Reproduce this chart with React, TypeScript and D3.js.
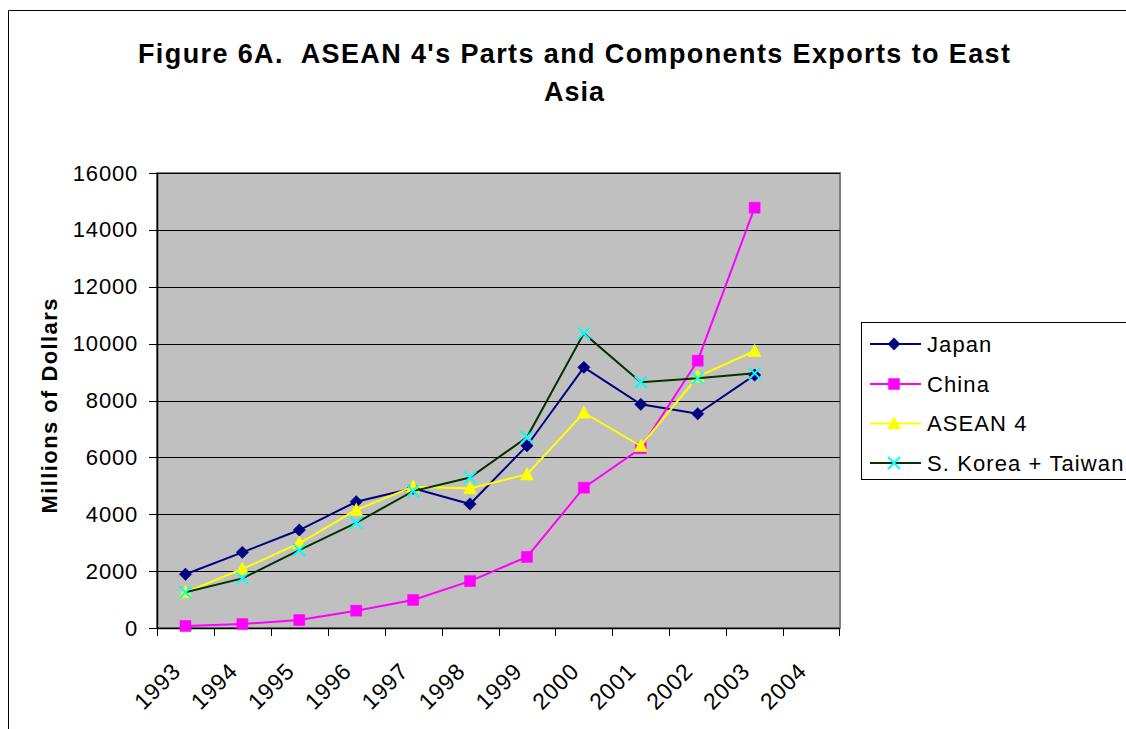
import React from 'react';
import * as d3 from 'd3';

const years = ['1993', '1994', '1995', '1996', '1997', '1998', '1999', '2000', '2001', '2002', '2003', '2004'];
const japan = [1890, 2660, 3445, 4440, 4910, 4360, 6410, 9165, 7865, 7535, 8895];
const china = [70, 140, 280, 610, 985, 1650, 2500, 4935, 6320, 9400, 14780];
const asean4 = [1255, 2075, 2980, 4150, 4970, 4910, 5400, 7570, 6400, 8840, 9740];
const koreaTaiwan = [1255, 1745, 2740, 3700, 4815, 5290, 6705, 10360, 8640, 8780, 8955];
const yTicks = [0, 2000, 4000, 6000, 8000, 10000, 12000, 14000, 16000];

const titleLine1 = "Figure 6A.  ASEAN 4's Parts and Components Exports to East";
const titleLine2 = 'Asia';
const yTitle = 'Millions of Dollars';

type Marker = 'diamond' | 'square' | 'triangle' | 'x';

const series: { name: string; values: number[]; line: string; fill: string; marker: Marker }[] = [
  { name: 'Japan', values: japan, line: '#000080', fill: '#000080', marker: 'diamond' },
  { name: 'China', values: china, line: '#FF00FF', fill: '#FF00FF', marker: 'square' },
  { name: 'ASEAN 4', values: asean4, line: '#FFFF00', fill: '#FFFF00', marker: 'triangle' },
  { name: 'S. Korea + Taiwan', values: koreaTaiwan, line: '#003300', fill: '#00FFFF', marker: 'x' },
];

const FONT = 'Arial, "Liberation Sans", Helvetica, sans-serif';

function markerPath(m: Marker): string {
  switch (m) {
    case 'diamond':
      return 'M0,-6.2L6.2,0L0,6.2L-6.2,0Z';
    case 'square':
      return 'M-5.5,-5.5H5.5V5.5H-5.5Z';
    case 'triangle':
      return 'M0,-7L6.5,5.5H-6.5Z';
    case 'x':
      return 'M-6,-6L6,6M-6,6L6,-6';
  }
}

function MarkerShape({ m, color, x, y }: { m: Marker; color: string; x: number; y: number }) {
  const d = markerPath(m);
  if (m === 'x') {
    return <path d={d} transform={`translate(${x},${y})`} stroke={color} strokeWidth={2} fill="none" />;
  }
  return <path d={d} transform={`translate(${x},${y})`} fill={color} stroke={color} strokeWidth={0.5} />;
}

export default function App() {
  const left = 157;
  const right = 840;
  const top = 173;
  const bottom = 628;

  const x = d3.scaleBand<string>().domain(years).range([left, right]).padding(0);
  const y = d3.scaleLinear().domain([0, 16000]).range([bottom, top]);
  const cx = (i: number) => (x(years[i]) as number) + x.bandwidth() / 2;

  const line = d3
    .line<number>()
    .x((_, i) => cx(i))
    .y((v) => y(v));

  const legendRows = [344, 384, 423.5, 463];

  return (
    <svg
      width={1126}
      height={729}
      style={{ position: 'absolute', left: 0, top: 0, display: 'block', background: '#fff' }}
      fontFamily={FONT}
    >
      <rect x={0} y={0} width={1126} height={729} fill="#fff" />
      {/* outer chart border (cropped) */}
      <path d="M8.5,729V10.5H1126" fill="none" stroke="#000" strokeWidth={1} />

      {/* title */}
      <text
        x={574}
        y={63}
        textAnchor="middle"
        fontSize={27}
        fontWeight="bold"
        style={{ whiteSpace: 'pre' }}
        textLength={872}
        lengthAdjust="spacing"
      >
        {titleLine1}
      </text>
      <text x={574} y={101} textAnchor="middle" fontSize={27} fontWeight="bold" textLength={60} lengthAdjust="spacing">
        {titleLine2}
      </text>

      {/* plot area */}
      <rect x={left} y={top} width={right - left} height={bottom - top} fill="#C0C0C0" stroke="#808080" strokeWidth={2} />

      {/* gridlines */}
      {yTicks
        .filter((t) => t > 0)
        .map((t) => (
          <line key={t} x1={left} x2={right} y1={Math.round(y(t)) + 0.5} y2={Math.round(y(t)) + 0.5} stroke="#000" strokeWidth={1} />
        ))}

      {/* y axis */}
      <line x1={left + 0.5} x2={left + 0.5} y1={top} y2={bottom} stroke="#000" strokeWidth={1.5} />
      {yTicks.map((t) => (
        <g key={t}>
          <line x1={149} x2={left} y1={Math.round(y(t)) + 0.5} y2={Math.round(y(t)) + 0.5} stroke="#000" strokeWidth={1} />
          <text x={138} y={y(t)} textAnchor="end" dominantBaseline="central" fontSize={22} letterSpacing={0.8}>
            {t}
          </text>
        </g>
      ))}

      {/* x axis */}
      <line x1={left} x2={right} y1={bottom + 0.5} y2={bottom + 0.5} stroke="#000" strokeWidth={1.5} />
      {years.map((yr) => (
        <line
          key={'t' + yr}
          x1={Math.round(x(yr) as number) + 0.5}
          x2={Math.round(x(yr) as number) + 0.5}
          y1={bottom}
          y2={bottom + 8}
          stroke="#000"
        />
      ))}
      <line x1={right - 0.5} x2={right - 0.5} y1={bottom} y2={bottom + 8} stroke="#000" />
      {years.map((yr, i) => (
        <text
          key={'l' + yr}
          transform={`translate(${cx(i) - 9},${667}) rotate(-45)`}
          textAnchor="end"
          dominantBaseline="central"
          fontSize={23}
          letterSpacing={0.8}
        >
          {yr}
        </text>
      ))}

      {/* y title */}
      <text
        transform={`translate(57,406) rotate(-90)`}
        textAnchor="middle"
        fontSize={22}
        fontWeight="bold"
        textLength={215}
        lengthAdjust="spacing"
      >
        {yTitle}
      </text>

      {/* series */}
      {series.map((s) => (
        <g key={s.name}>
          <path d={line(s.values) as string} fill="none" stroke={s.line} strokeWidth={2} />
          {s.values.map((v, i) => (
            <MarkerShape key={i} m={s.marker} color={s.fill} x={cx(i)} y={y(v)} />
          ))}
        </g>
      ))}

      {/* legend */}
      <rect x={861.5} y={322.5} width={300} height={157} fill="#fff" stroke="#000" strokeWidth={1} />
      {series.map((s, i) => (
        <g key={'lg' + s.name}>
          <line x1={870} x2={921} y1={legendRows[i]} y2={legendRows[i]} stroke={s.line} strokeWidth={2} />
          <MarkerShape m={s.marker} color={s.fill} x={894} y={legendRows[i]} />
          <text x={927} y={legendRows[i]} dominantBaseline="central" fontSize={22} letterSpacing={1.1}>
            {s.name}
          </text>
        </g>
      ))}
    </svg>
  );
}
